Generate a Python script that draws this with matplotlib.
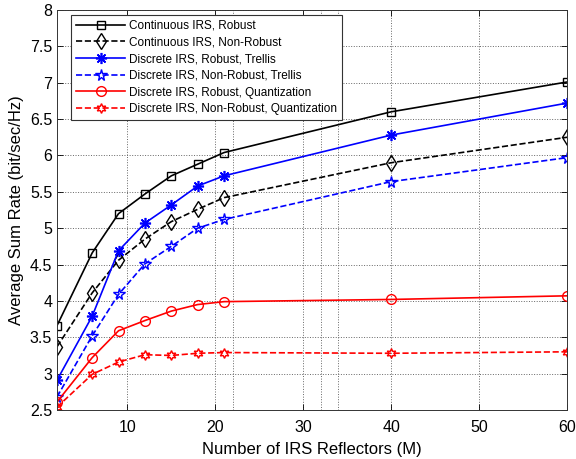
import numpy as np
import matplotlib
matplotlib.use("Agg")
import matplotlib.pyplot as plt

plt.rcParams["font.family"] = ["Liberation Sans", "DejaVu Sans"]

# number of IRS reflectors
M = [2, 6, 9, 12, 15, 18, 21, 40, 60]

cont_robust = [3.66, 4.66, 5.20, 5.47, 5.72, 5.88, 6.04, 6.60, 7.01]
cont_nonrobust = [3.37, 4.11, 4.56, 4.85, 5.09, 5.26, 5.42, 5.90, 6.25]
disc_robust_trellis = [2.91, 3.79, 4.69, 5.07, 5.32, 5.58, 5.72, 6.28, 6.72]
disc_nonrobust_trellis = [2.68, 3.52, 4.09, 4.51, 4.75, 5.00, 5.12, 5.64, 5.97]
disc_robust_quant = [2.61, 3.22, 3.59, 3.73, 3.86, 3.95, 3.99, 4.02, 4.07]
disc_nonrobust_quant = [2.54, 2.99, 3.16, 3.26, 3.25, 3.28, 3.29, 3.28, 3.30]

labels = [
    "Continuous IRS, Robust",
    "Continuous IRS, Non-Robust",
    "Discrete IRS, Robust, Trellis",
    "Discrete IRS, Non-Robust, Trellis",
    "Discrete IRS, Robust, Quantization",
    "Discrete IRS, Non-Robust, Quantization",
]

fig = plt.figure(figsize=(5.76, 4.59), dpi=100)
ax = fig.add_axes([57 / 576, 1 - 410 / 459, 510 / 576, 400 / 459])

lw = 1.2
ax.plot(M, cont_robust, "k-", marker="s", ms=6, mfc="none", mew=1.0, lw=lw, label=labels[0])
ax.plot(M, cont_nonrobust, "k--", marker="d", ms=8.5, mfc="none", mew=1.0, lw=lw, label=labels[1])
ax.plot(M, disc_robust_trellis, "b-", marker=(8, 2, 0), ms=8, mew=1.2, lw=lw, label=labels[2])
ax.plot(M, disc_nonrobust_trellis, "b--", marker="*", ms=8.5, mfc="none", mew=1.0, lw=lw, label=labels[3])
ax.plot(M, disc_robust_quant, "r-", marker="o", ms=7, mfc="none", mew=1.0, lw=lw, label=labels[4])
ax.plot(M, disc_nonrobust_quant, "r--", marker=(6, 1, 0), ms=7, mfc="none", mew=1.0, lw=lw, label=labels[5])

ax.set_xlim(2, 60)
ax.set_ylim(2.5, 8)
ax.set_xticks([10, 20, 30, 40, 50, 60])
yt = np.arange(2.5, 8.01, 0.5)
ax.set_yticks(yt)
ax.set_yticklabels([f"{v:g}" for v in yt])
ax.tick_params(direction="in", top=True, right=True, labelsize=11.5, length=4, width=0.6)
ax.tick_params(axis="x", pad=7)
for s in ax.spines.values():
    s.set_linewidth(0.7)
    s.set_color("#333333")

ax.grid(True, ls=":", color="#666666", lw=0.7)
# stray grid lines in the exported figure
for xv in [22, 32, 34]:
    ax.axvline(xv, ls=":", color="#666666", lw=0.7, zorder=0)

ax.set_xlabel("Number of IRS Reflectors (M)", fontsize=12, labelpad=5)
ax.set_ylabel("Average Sum Rate (bit/sec/Hz)", fontsize=12)

leg = ax.legend(loc="upper left", bbox_to_anchor=(14 / 510, 1 - 5 / 400), borderaxespad=0,
                fontsize=8.5, fancybox=False, framealpha=1, edgecolor="#333333",
                handlelength=4.2, labelspacing=0.4, borderpad=0.4, handletextpad=0.3)
leg.get_frame().set_linewidth(0.8)

plt.savefig("out.png", dpi=100)
